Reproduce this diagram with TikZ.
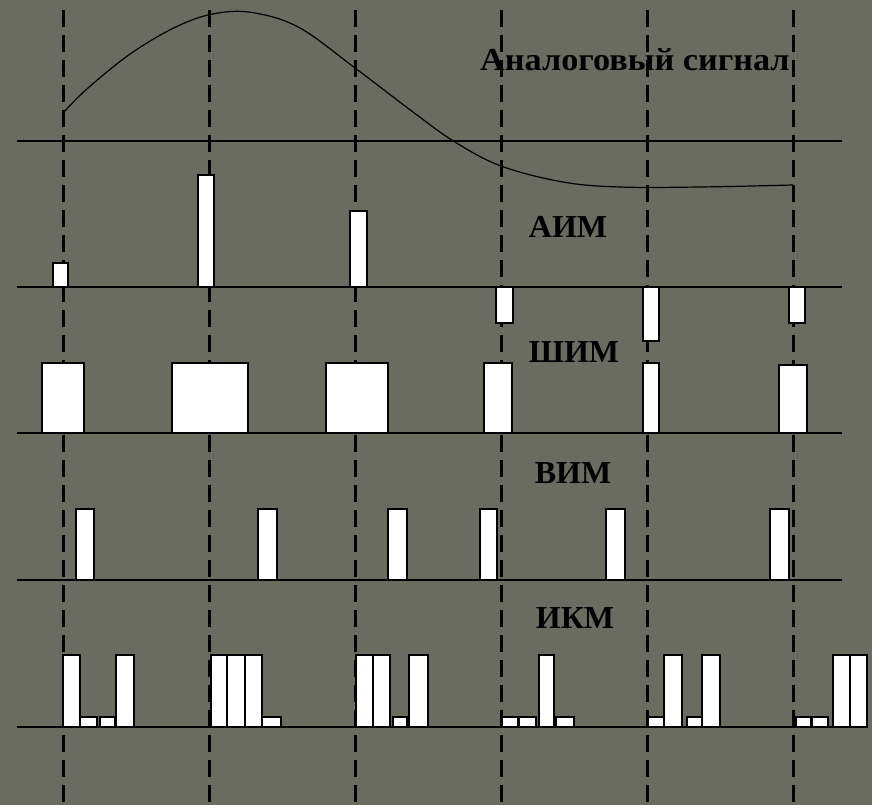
\documentclass[tikz,border=0pt]{standalone}
\usepackage{fontspec}
\setmainfont{Liberation Serif}
\definecolor{bgcol}{RGB}{106,108,96}
\begin{document}
\begin{tikzpicture}[x=1pt,y=-1pt,
  axisline/.style={line width=1.8pt},
  guide/.style={line width=3pt, dash pattern=on 17pt off 8pt},
  pulse/.style={fill=white, draw=black, line width=1.5pt},
  lbl/.style={font=\fontsize{32}{32}\selectfont\bfseries, inner sep=0pt, anchor=base},
  sig/.style={line width=1.2pt}]
\fill[bgcol] (0,0) rectangle (872,805);
\useasboundingbox (0,0) rectangle (872,805);
% sampling instants
\foreach \x in {63,209,355,501,647,793} \draw[guide] (\x,10) -- (\x,805);
% time axes
\foreach \y in {141,287,433,580,727} \draw[axisline] (17,\y) -- (842,\y);
% analog signal
\draw[sig] plot[smooth, tension=0.6] coordinates {(63,113) (88,88) (133,52) (180,25) (218,13) (255,13) (300,28) (355,68) (417,115) (455,142) (501,166) (563,182) (620,187) (700,187) (793,185)};
\node[lbl, anchor=base west] (siglbl) at (480,71) {\scalebox{1.07}[1]{Аналоговый сигнал}};
% AIM
\draw[pulse] (53,263) rectangle (68,287);
\draw[pulse] (198,175) rectangle (214,287);
\draw[pulse] (350,211) rectangle (367,287);
\draw[pulse] (496,287) rectangle (513,323);
\draw[pulse] (643,287) rectangle (659,341);
\draw[pulse] (789,287) rectangle (805,323);
\node[lbl] (aim) at (568,237) {АИМ};
% SHIM
\draw[pulse] (42,363) rectangle (84,433);
\draw[pulse] (172,363) rectangle (248,433);
\draw[pulse] (326,363) rectangle (388,433);
\draw[pulse] (484,363) rectangle (512,433);
\draw[pulse] (643,363) rectangle (659,433);
\draw[pulse] (779,365) rectangle (807,433);
\node[lbl] (shim) at (574,362) {ШИМ};
% VIM
\draw[pulse] (76,509) rectangle (94,580);
\draw[pulse] (258,509) rectangle (277,580);
\draw[pulse] (388,509) rectangle (407,580);
\draw[pulse] (480,509) rectangle (497,580);
\draw[pulse] (606,509) rectangle (625,580);
\draw[pulse] (770,509) rectangle (789,580);
\node[lbl] (vim) at (573,483) {ВИМ};
% IKM
\foreach \a/\b/\t in {63/80/655, 80/97/717, 100/115/717, 116/134/655,
  211/227/655, 227/245/655, 245/262/655, 262/281/717,
  356/373/655, 373/390/655, 393/407/717, 409/428/655,
  502/518/717, 519/536/717, 539/554/655, 556/574/717,
  648/664/717, 664/682/655, 687/702/717, 702/720/655,
  796/811/717, 812/828/717, 833/850/655, 850/867/655}
  \draw[pulse] (\a,\t) rectangle (\b,727);
\node[lbl] (ikm) at (575,628) {ИКМ};
\end{tikzpicture}
\end{document}
